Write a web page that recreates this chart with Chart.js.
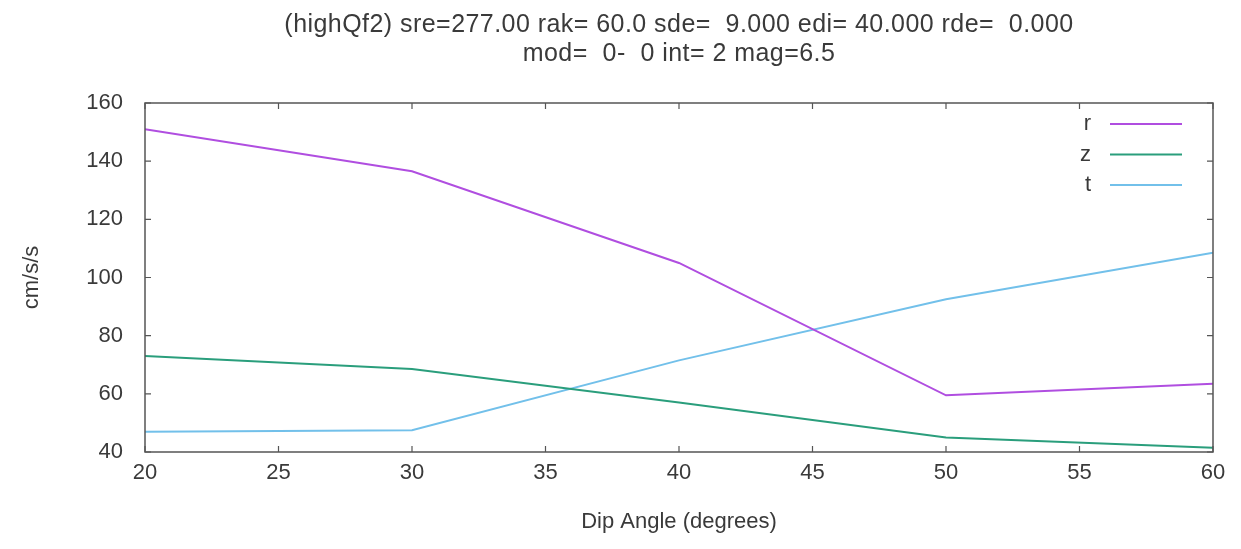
<!DOCTYPE html>
<html>
<head>
<meta charset="utf-8">
<script src="https://cdn.jsdelivr.net/npm/chart.js@4"></script>
<style>
  html, body { margin: 0; padding: 0; background: #fff; }
  #wrap { width: 1241px; height: 549px; }
</style>
</head>
<body>
<div id="wrap"><canvas id="myChart" width="1241" height="549"></canvas></div>
<script>
// dip angles (degrees)
const dipAngles = [20, 30, 40, 50, 60];
// peak acceleration per component, cm/s/s
const rValues = [151, 136.5, 105, 59.5, 63.5];
const zValues = [73, 68.5, 57, 45, 41.5];
const tValues = [47, 47.5, 71.5, 92.5, 108.5];
const seriesNames = ['r', 'z', 't'];
const yTicks = [40, 60, 80, 100, 120, 140, 160];
const xTicks = [20, 25, 30, 35, 40, 45, 50, 55, 60];

const titleLines = [
  '(highQf2) sre=277.00 rak= 60.0 sde=  9.000 edi= 40.000 rde=  0.000',
  'mod=  0-  0 int= 2 mag=6.5'
];

const fontFamily = '"Liberation Sans", Arial, sans-serif';
const textColor = '#3a3a3a';

function toPoints(vals) {
  return vals.map((v, i) => ({ x: dipAngles[i], y: v }));
}

// gnuplot style title, frame, inward ticks on all sides, and legend
const gnuplotFrame = {
  id: 'gnuplotFrame',
  afterDraw(chart) {
    const ctx = chart.ctx;
    const a = chart.chartArea;
    ctx.save();
    ctx.font = '25px ' + fontFamily;
    ctx.fillStyle = textColor;
    ctx.textAlign = 'center';
    ctx.textBaseline = 'alphabetic';
    if ('letterSpacing' in ctx) ctx.letterSpacing = '0.45px';
    const cx = (a.left + a.right) / 2;
    titleLines.forEach((line, i) => {
      ctx.fillText(line, cx, 32 + i * 29);
    });
    ctx.restore();
  },
  afterDatasetsDraw(chart) {
    const ctx = chart.ctx;
    const a = chart.chartArea;
    const xs = chart.scales.x, ys = chart.scales.y;
    ctx.save();
    ctx.strokeStyle = '#555';
    ctx.lineWidth = 1.5;
    ctx.strokeRect(a.left, a.top, a.right - a.left, a.bottom - a.top);
    ctx.lineWidth = 1.2;
    ctx.beginPath();
    xTicks.forEach(v => {
      const px = xs.getPixelForValue(v);
      ctx.moveTo(px, a.bottom); ctx.lineTo(px, a.bottom - 6);
      ctx.moveTo(px, a.top); ctx.lineTo(px, a.top + 6);
    });
    yTicks.forEach(v => {
      const py = ys.getPixelForValue(v);
      ctx.moveTo(a.left, py); ctx.lineTo(a.left + 6, py);
      ctx.moveTo(a.right, py); ctx.lineTo(a.right - 6, py);
    });
    ctx.stroke();

    // legend
    ctx.font = '22px ' + fontFamily;
    ctx.fillStyle = textColor;
    ctx.textAlign = 'right';
    ctx.textBaseline = 'middle';
    chart.data.datasets.forEach((ds, i) => {
      const y = a.top + 21 + i * 30.5;
      ctx.fillText(ds.label, a.right - 122, y);
      ctx.strokeStyle = ds.borderColor;
      ctx.lineWidth = 2;
      ctx.beginPath();
      ctx.moveTo(a.right - 103, y);
      ctx.lineTo(a.right - 31, y);
      ctx.stroke();
    });
    ctx.restore();
  }
};

const ctx = document.getElementById('myChart').getContext('2d');
const chart = new Chart(ctx, {
  type: 'line',
  data: {
    datasets: [
      { label: seriesNames[0], data: toPoints(rValues), borderColor: '#b04ee0', borderWidth: 2 },
      { label: seriesNames[1], data: toPoints(zValues), borderColor: '#2a9e7c', borderWidth: 2 },
      { label: seriesNames[2], data: toPoints(tValues), borderColor: '#72c0ea', borderWidth: 2 }
    ]
  },
  options: {
    responsive: false,
    animation: false,
    elements: { point: { radius: 0 }, line: { tension: 0 } },
    layout: { padding: { top: 103, right: 28, left: 0, bottom: 0 } },
    plugins: {
      legend: { display: false },
      tooltip: { enabled: false },
      title: { display: false }
    },
    scales: {
      x: {
        type: 'linear',
        min: 20, max: 60,
        afterBuildTicks: s => { s.ticks = xTicks.map(v => ({ value: v })); },
        afterFit: s => { s.height = 97; },
        grid: { display: false, drawTicks: false },
        border: { display: false },
        ticks: { color: textColor, font: { family: fontFamily, size: 22 }, padding: 8 },
        title: {
          display: true,
          text: 'Dip Angle (degrees)',
          color: textColor,
          font: { family: fontFamily, size: 22 },
          padding: { top: 0, bottom: 14 }
        }
      },
      y: {
        min: 40, max: 160,
        afterBuildTicks: s => { s.ticks = yTicks.map(v => ({ value: v })); },
        afterFit: s => { s.width = 145; },
        grid: { display: false, drawTicks: false },
        border: { display: false },
        ticks: { color: textColor, font: { family: fontFamily, size: 22 }, padding: 22 },
        title: {
          display: true,
          text: 'cm/s/s',
          color: textColor,
          font: { family: fontFamily, size: 22 },
          padding: { top: 19, bottom: 0 }
        }
      }
    }
  },
  plugins: [gnuplotFrame]
});
</script>
</body>
</html>
